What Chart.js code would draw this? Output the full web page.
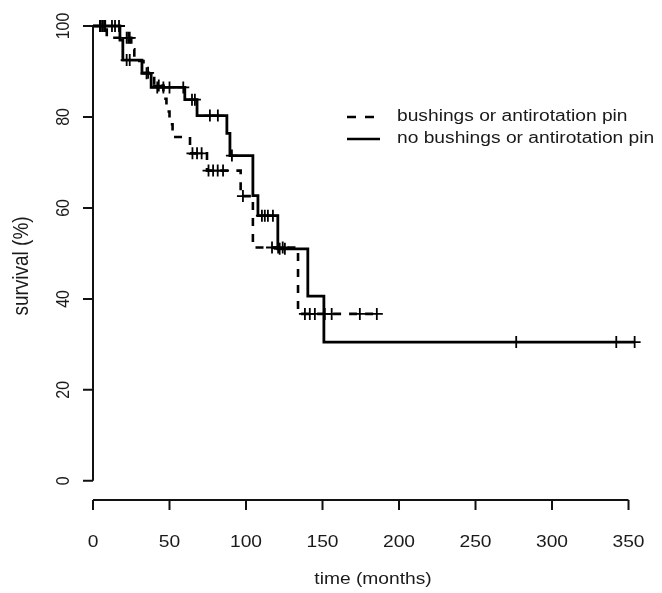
<!DOCTYPE html>
<html>
<head>
<meta charset="utf-8">
<script src="https://cdn.jsdelivr.net/npm/chart.js@4.4.0/dist/chart.umd.min.js"></script>
<style>
  html, body { margin: 0; padding: 0; background: #fff; }
</style>
</head>
<body>
<canvas id="km" width="662" height="593"></canvas>
<script>
const xTicks = [0, 50, 100, 150, 200, 250, 300, 350];
const yTicks = [0, 20, 40, 60, 80, 100];
const seriesNames = ['bushings or antirotation pin', 'no bushings or antirotation pin'];
const xTitle = 'time (months)';
const yTitle = 'survival (%)';

// bushings or antirotation pin (dashed): step times and survival after each step
const bushTimes = [0, 9, 25, 27, 33, 40, 46, 48, 50, 52, 63.4, 74.5, 96.5, 104.5, 134, 185.5];
const bushSurv = [100, 97.4, 94.9, 92.3, 89.7, 86.9, 84.0, 81.2, 78.4, 75.6, 72.0, 68.2, 62.6, 51.3, 36.7, 36.7];
const bushCensor = [4.5, 6, 7.5, 22, 23, 24, 36, 43, 65, 68, 71, 75.5, 78.5, 81.5, 85, 98, 117, 121, 124, 138.5, 141.7, 145, 151.5, 156, 174.4, 185.5];

// no bushings or antirotation pin (solid)
const noBushTimes = [0, 17.6, 19.5, 32, 38, 60, 68, 87.5, 89.5, 104.5, 107.8, 120.8, 140.4, 150.9, 354];
const noBushSurv = [100, 96.9, 92.5, 89.6, 86.5, 83.8, 80.3, 76.4, 71.5, 62.7, 58.3, 51.0, 40.6, 30.5, 30.5];
const noBushCensor = [5, 6.5, 8, 12.4, 14.4, 17, 22, 24, 35, 42, 46, 50, 59, 64.7, 66.6, 76.4, 81.6, 90.8, 110.4, 112.3, 114.3, 117.6, 122, 125.4, 276.6, 342, 354];

// level of a step curve at time t
function levelAt(times, surv, t) {
  let v = surv[0];
  for (let i = 0; i < times.length; i++) {
    if (times[i] <= t) v = surv[i];
  }
  return v;
}

const SX = 1.2; // text in the picture is stretched sideways
const FONT = '16px "Liberation Sans", Arial, sans-serif';
const TITLE_FONT = '19px "Liberation Sans", Arial, sans-serif';
const INK = '#1a1a1a';

function hText(ctx, str, x, y, align) {
  ctx.save();
  ctx.translate(x, y);
  ctx.scale(SX, 1);
  ctx.textAlign = align;
  ctx.textBaseline = 'middle';
  ctx.fillText(str, 0, 0);
  ctx.restore();
}

function vText(ctx, str, x, y) {
  ctx.save();
  ctx.translate(x, y);
  ctx.scale(SX, 1);
  ctx.rotate(-Math.PI / 2);
  ctx.textAlign = 'center';
  ctx.textBaseline = 'middle';
  ctx.fillText(str, 0, 0);
  ctx.restore();
}

const rAxes = {
  id: 'rAxes',
  afterDraw(chart) {
    const ctx = chart.ctx;
    const xs = chart.scales.x, ys = chart.scales.y;
    const area = chart.chartArea;
    ctx.save();
    ctx.strokeStyle = '#111';
    ctx.fillStyle = INK;
    ctx.lineWidth = 2;
    ctx.font = FONT;

    // y axis
    const x0 = xs.getPixelForValue(0);
    ctx.beginPath();
    ctx.moveTo(x0, ys.getPixelForValue(yTicks[0]));
    ctx.lineTo(x0, ys.getPixelForValue(yTicks[yTicks.length - 1]));
    yTicks.forEach(v => {
      const py = ys.getPixelForValue(v);
      ctx.moveTo(x0, py);
      ctx.lineTo(x0 - 10, py);
    });
    ctx.stroke();
    yTicks.forEach(v => vText(ctx, String(v), 64, ys.getPixelForValue(v)));

    // x axis
    const yb = area.bottom + 1;
    ctx.beginPath();
    ctx.moveTo(xs.getPixelForValue(xTicks[0]), yb);
    ctx.lineTo(xs.getPixelForValue(xTicks[xTicks.length - 1]), yb);
    xTicks.forEach(v => {
      const px = xs.getPixelForValue(v);
      ctx.moveTo(px, yb);
      ctx.lineTo(px, yb + 10);
    });
    ctx.stroke();
    xTicks.forEach(v => hText(ctx, String(v), xs.getPixelForValue(v), 543, 'center'));

    // titles
    hText(ctx, xTitle, (area.left + area.right) / 2, 580, 'center');
    ctx.font = TITLE_FONT;
    vText(ctx, yTitle, 22, 266);
    ctx.font = FONT;

    // legend
    ctx.strokeStyle = '#000';
    ctx.lineWidth = 2.6;
    ctx.setLineDash([9, 9]);
    ctx.beginPath();
    ctx.moveTo(347, 117);
    ctx.lineTo(380, 117);
    ctx.stroke();
    ctx.setLineDash([]);
    ctx.beginPath();
    ctx.moveTo(347, 139);
    ctx.lineTo(380, 139);
    ctx.stroke();
    hText(ctx, seriesNames[0], 397, 117, 'left');
    hText(ctx, seriesNames[1], 397, 139, 'left');
    ctx.restore();
  }
};

const censorStyle = {
  type: 'scatter',
  pointStyle: 'cross',
  pointRadius: 6,
  borderColor: '#000',
  backgroundColor: '#000',
  borderWidth: 1.8
};

new Chart(document.getElementById('km'), {
  type: 'line',
  data: {
    datasets: [
      {
        label: seriesNames[0],
        data: bushTimes.map((t, i) => ({ x: t, y: bushSurv[i] })),
        stepped: 'before',
        borderColor: '#000',
        borderWidth: 2.6,
        borderDash: [8, 8],
        pointRadius: 0,
        fill: false
      },
      {
        label: seriesNames[1],
        data: noBushTimes.map((t, i) => ({ x: t, y: noBushSurv[i] })),
        stepped: 'before',
        borderColor: '#000',
        borderWidth: 2.8,
        pointRadius: 0,
        fill: false
      },
      Object.assign({ data: bushCensor.map(t => ({ x: t, y: levelAt(bushTimes, bushSurv, t) })) }, censorStyle),
      Object.assign({ data: noBushCensor.map(t => ({ x: t, y: levelAt(noBushTimes, noBushSurv, t) })) }, censorStyle)
    ]
  },
  options: {
    responsive: false,
    animation: false,
    devicePixelRatio: 1,
    layout: { padding: { left: 93, right: 9, top: 7, bottom: 94 } },
    scales: {
      x: { type: 'linear', min: 0, max: 366, display: false },
      y: { type: 'linear', min: -4, max: 104, display: false }
    },
    plugins: {
      legend: { display: false },
      tooltip: { enabled: false }
    }
  },
  plugins: [rAxes]
});
</script>
</body>
</html>
